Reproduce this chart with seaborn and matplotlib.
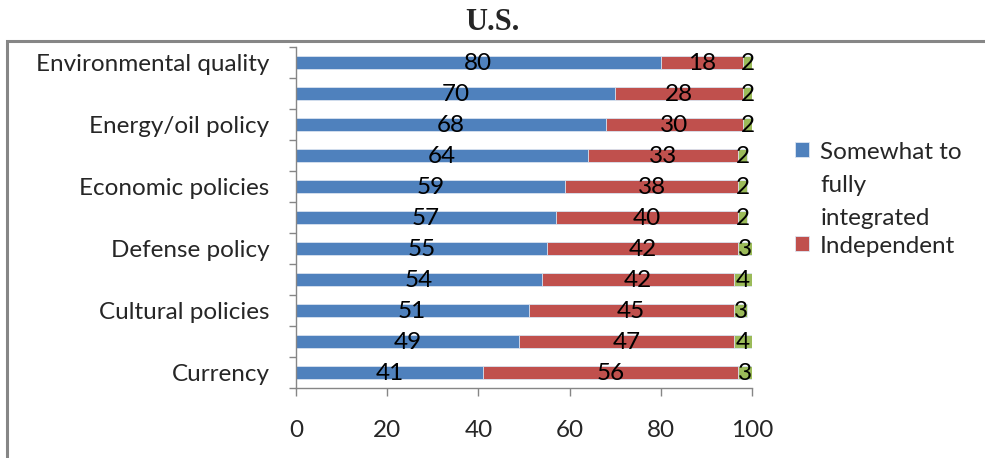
import matplotlib
matplotlib.use("Agg")
import matplotlib.pyplot as plt
from matplotlib.patches import Rectangle
from matplotlib.ticker import FixedLocator
import seaborn as sns
import pandas as pd
import numpy as np

# Share of respondents preferring each arrangement, by policy area (U.S.)
labels = ["Environmental quality", "", "Energy/oil policy", "", "Economic policies",
          "", "Defense policy", "", "Cultural policies", "", "Currency"]
integrated = [80, 70, 68, 64, 59, 57, 55, 54, 51, 49, 41]
independent = [18, 28, 30, 33, 38, 40, 42, 42, 45, 47, 56]
other = [2, 2, 2, 2, 2, 2, 3, 4, 3, 4, 3]
series_names = ["Somewhat to\nfully\nintegrated", "Independent", "Don't know"]
x_ticks = [0, 20, 40, 60, 80, 100]

blue, red, green = "#4F81BD", "#C0504D", "#9BBB59"

sns.set_theme(style="white")
plt.rcParams["font.family"] = ["Lato", "DejaVu Sans"]
FS = 17.5

rows = [str(i) for i in range(len(labels))]
df = pd.DataFrame({"row": rows, "a": integrated, "b": independent, "c": other})
df["cum_a"] = df["a"]
df["cum_b"] = df["a"] + df["b"]
df["cum_c"] = df["a"] + df["b"] + df["c"]

fig = plt.figure(figsize=(9.85, 4.58), dpi=100)
ax = fig.add_axes([296 / 985, 1 - 388 / 458, 456 / 985, 341 / 458])

# stacked bars drawn back to front from cumulative totals
bw = 0.4
for col, color, name in [("cum_c", green, series_names[2]),
                         ("cum_b", red, series_names[1]),
                         ("cum_a", blue, series_names[0])]:
    sns.barplot(data=df, y="row", x=col, color=color, width=bw, orient="h",
                ax=ax, label=name, edgecolor="#DCE6F2", linewidth=0.6,
                saturation=1)

# segment labels
for i in range(len(rows)):
    starts = [0, integrated[i], integrated[i] + independent[i]]
    vals = [integrated[i], independent[i], other[i]]
    for s, v in zip(starts, vals):
        ax.text(s + v / 2, i + 0.03, f"{v}", ha="center", va="center",
                fontsize=FS, color="black")

ax.set_xlim(0, 100)
ax.set_ylim(len(rows) - 0.5, -0.5)
ax.set_xlabel("")
ax.set_ylabel("")

# category ticks at boundaries, labels at centers
ax.yaxis.set_major_locator(FixedLocator(np.arange(-0.5, len(rows), 1.0)))
ax.yaxis.set_minor_locator(FixedLocator(np.arange(len(rows))))
ax.set_yticklabels([""] * (len(rows) + 1))
ax.set_yticklabels(labels, minor=True, fontsize=FS)
ax.tick_params(axis="y", which="major", left=True, length=5, width=1,
               color="#868686", direction="out")
ax.tick_params(axis="y", which="minor", left=True, length=0, pad=19)

ax.set_xticks(x_ticks)
ax.set_xticklabels([str(t) for t in x_ticks], fontsize=FS)
ax.tick_params(axis="x", bottom=True, length=6, width=1, color="#868686",
               direction="out", pad=17)

for side in ["top", "right"]:
    ax.spines[side].set_visible(False)
for side in ["left", "bottom"]:
    ax.spines[side].set_visible(True)
    ax.spines[side].set_color("#868686")
    ax.spines[side].set_linewidth(1)

# legend: first two series only
handles, lbls = ax.get_legend_handles_labels()
order = [lbls.index(series_names[0]), lbls.index(series_names[1])]
if ax.legend_:
    ax.legend_.remove()
leg = fig.legend([handles[k] for k in order], [lbls[k] for k in order],
                 loc="upper left", bbox_to_anchor=(785 / 985, 1 - 132 / 458),
                 frameon=False, fontsize=FS, handlelength=0.6,
                 handleheight=0.6, handletextpad=0.45, labelspacing=0.3,
                 borderaxespad=0)
for t in leg.get_texts():
    t.set_linespacing(1.7)
# put each swatch beside the first line of its label
for column in leg._legend_handle_box.get_children():
    for item in column.get_children():
        item.align = "top"

fig.text(0.5, 1 - 22 / 458, "U.S.", ha="center", va="center",
         fontsize=22, fontweight="bold", family="Liberation Serif")

# chart area frame
fig.patches.append(Rectangle((7 / 985, -0.05), 1.1, 1 - 41 / 458 + 0.05,
                             transform=fig.transFigure, fill=False,
                             edgecolor="#868686", linewidth=2.2))

fig.savefig("out.png", dpi=100)
